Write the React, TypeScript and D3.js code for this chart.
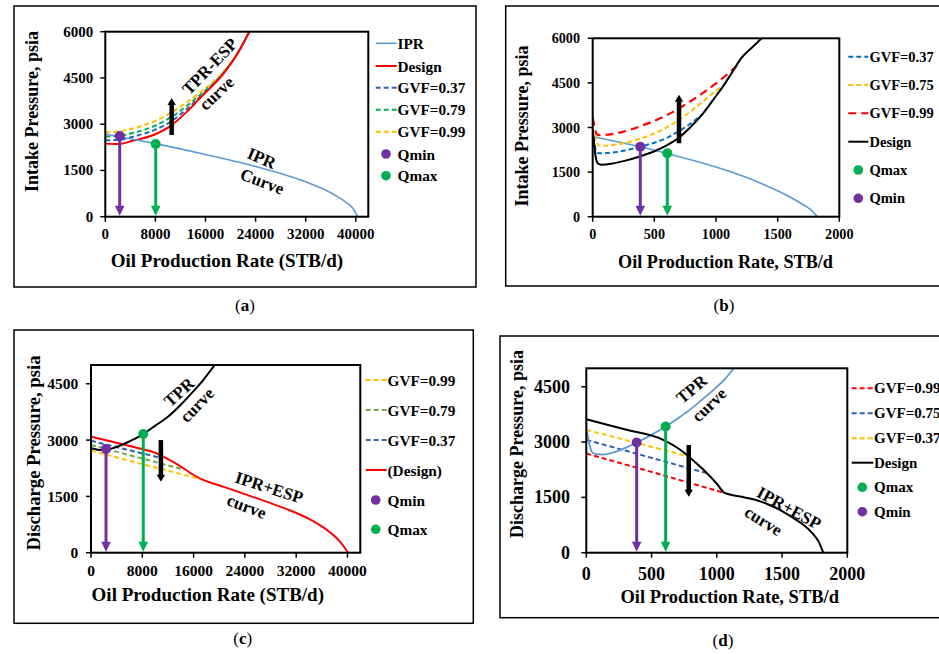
import React from "react";
import * as d3 from "d3";

type Pt = [number, number];

const FONT = '"Liberation Serif", "Times New Roman", serif';

// ---------- Colours ----------
const C_IPR = "#5B9BD5";
const C_RED = "#FF0000";
const C_NAVY = "#2E64AE";
const C_BLUE = "#0070C0";
const C_GREEN = "#00B050";
const C_LGREEN = "#70AD47";
const C_YELLOW = "#FFC000";
const C_PURPLE = "#7030A0";
const C_BLACK = "#000000";

// ---------- Panel (a) data ----------
const aXTicks = [0, 8000, 16000, 24000, 32000, 40000];
const aYTicks = [0, 1500, 3000, 4500, 6000];
const aIPR: Pt[] = [[0, 2680], [4000, 2530], [8000, 2370], [12000, 2200], [16000, 2020], [20000, 1830], [24000, 1630], [28000, 1400], [32000, 1130], [35000, 880], [37000, 660], [38500, 460], [39500, 280], [40300, 0]];
const aDesign: Pt[] = [[0, 2370], [2000, 2355], [4500, 2470], [7700, 2650], [10600, 2970], [13000, 3400], [15100, 3840], [19100, 4700], [21000, 5250], [23000, 6000]];
const aGVF037: Pt[] = [[0, 2480], [2000, 2490], [4500, 2600], [7700, 2800], [10600, 3100], [13000, 3490], [15100, 3880], [19100, 4710], [21000, 5255], [23000, 6000]];
const aGVF079: Pt[] = [[0, 2600], [2000, 2615], [4500, 2720], [7700, 2930], [10600, 3240], [13000, 3590], [15100, 3940], [19100, 4730], [21000, 5260], [23000, 6000]];
const aGVF099: Pt[] = [[0, 2740], [2000, 2760], [4500, 2870], [7700, 3080], [10600, 3390], [13000, 3710], [15100, 4020], [19100, 4760], [21000, 5270], [23000, 6000]];
const aQmin: Pt = [2300, 2615];
const aQmax: Pt = [8050, 2360];
const aShift: Pt[] = [[10600, 2650], [10600, 3850]];
const aLegendLabels = ["IPR", "Design", "GVF=0.37", "GVF=0.79", "GVF=0.99", "Qmin", "Qmax"];

// ---------- Panel (b) data ----------
const bXTicks = [0, 500, 1000, 1500, 2000];
const bYTicks = [0, 1500, 3000, 4500, 6000];
const bIPR: Pt[] = [[0, 2700], [200, 2520], [386, 2350], [605, 2125], [800, 1910], [1000, 1670], [1200, 1390], [1400, 1060], [1500, 870], [1600, 660], [1700, 420], [1770, 230], [1822, 0]];
const bDesign: Pt[] = [[0, 2900], [10, 2500], [25, 2000], [40, 1800], [70, 1750], [150, 1780], [250, 1870], [370, 2010], [500, 2200], [600, 2400], [700, 2660], [800, 3040], [900, 3500], [1000, 4060], [1060, 4400], [1130, 4850], [1205, 5330], [1290, 5680], [1370, 6000]];
const bGVF037: Pt[] = [[0, 2950], [12, 2550], [25, 2250], [50, 2130], [120, 2140], [250, 2220], [410, 2380], [600, 2650], [700, 2880], [800, 3150], [890, 3440]];
const bGVF075: Pt[] = [[0, 3000], [15, 2750], [30, 2500], [60, 2380], [120, 2390], [250, 2470], [410, 2660], [600, 3000], [700, 3260], [800, 3560], [900, 3900], [1000, 4230], [1055, 4400]];
const bGVF099: Pt[] = [[0, 3330], [15, 3050], [30, 2780], [60, 2740], [120, 2760], [250, 2860], [410, 3080], [600, 3410], [700, 3640], [800, 3900], [900, 4180], [1000, 4480], [1100, 4820], [1200, 5200]];
const bQmin: Pt = [386, 2355];
const bQmax: Pt = [605, 2130];
const bShift: Pt[] = [[700, 2470], [700, 4100]];
const bLegendLabels = ["GVF=0.37", "GVF=0.75", "GVF=0.99", "Design", "Qmax", "Qmin"];

// ---------- Panel (c) data ----------
const cXTicks = [0, 8000, 16000, 24000, 32000, 40000];
const cYTicks = [0, 1500, 3000, 4500];
const cDesign: Pt[] = [[0, 3090], [3500, 2950], [6850, 2810], [10200, 2650], [11500, 2540], [13000, 2400], [14600, 2230], [16000, 2070], [17500, 1940], [20600, 1760], [24000, 1560], [28000, 1320], [31000, 1130], [34000, 900], [36500, 640], [38800, 300], [40100, 0]];
const cTPR: Pt[] = [[0, 2780], [1000, 2745], [2200, 2735], [3500, 2790], [5300, 2910], [6800, 3030], [8150, 3160], [10000, 3380], [12000, 3620], [14000, 3940], [15700, 4250], [17500, 4600], [19300, 5000]];
const cGVF037: Pt[] = [[0, 2980], [5500, 2750], [11000, 2520]];
const cGVF079: Pt[] = [[0, 2870], [7300, 2540], [14600, 2210]];
const cGVF099: Pt[] = [[0, 2720], [8700, 2330], [17500, 1940]];
const cQmin: Pt = [2340, 2760];
const cQmax: Pt = [8150, 3160];
const cShift: Pt[] = [[10900, 3000], [10900, 1890]];
const cLegendLabels = ["GVF=0.99", "GVF=0.79", "GVF=0.37", "(Design)", "Qmin", "Qmax"];

// ---------- Panel (d) data ----------
const dXTicks = [0, 500, 1000, 1500, 2000];
const dYTicks = [0, 1500, 3000, 4500];
const dDesign: Pt[] = [[0, 3620], [300, 3340], [590, 3060], [720, 2790], [800, 2560], [900, 2240], [1000, 1870], [1060, 1620], [1200, 1510], [1300, 1430], [1400, 1300], [1500, 1130], [1600, 910], [1670, 740], [1730, 540], [1780, 300], [1816, 0]];
const dTPR: Pt[] = [[0, 3370], [15, 3100], [30, 2850], [45, 2720], [80, 2670], [130, 2660], [200, 2710], [335, 2900], [470, 3140], [608, 3420], [700, 3640], [795, 3880], [880, 4130], [973, 4410], [1060, 4700], [1132, 5000]];
const dGVF099: Pt[] = [[0, 2690], [530, 2160], [1060, 1620]];
const dGVF075: Pt[] = [[0, 3060], [460, 2610], [920, 2160]];
const dGVF037: Pt[] = [[0, 3330], [395, 2970], [790, 2600]];
const dQmin: Pt = [386, 2990];
const dQmax: Pt = [608, 3420];
const dShift: Pt[] = [[785, 2920], [785, 1520]];
const dLegendLabels = ["GVF=0.99", "GVF=0.75", "GVF=0.37", "Design", "Qmax", "Qmin"];

// ---------- Types ----------
type Series = { data: Pt[]; color: string; width: number; dash?: string; curve?: "smooth" | "linear" };
type Legend = { label: string; color: string; kind: "line" | "dot"; dash?: string; width?: number };
type Label = { text: string; at: Pt; angle: number };
type PanelCfg = {
  id: string;
  frame: { x: number; y: number; w: number; h: number };
  plot: { l: number; t: number; r: number; b: number };
  xDomain: [number, number];
  yDomain: [number, number];
  xTicks: number[];
  yTicks: number[];
  tickSize: number;
  xTickDy: number;
  yTickDx: number;
  series: Series[];
  qmin: Pt;
  qmax: Pt;
  shift: Pt[];
  labels: Label[];
  labelSize: number;
  legend: Legend[];
  legendX: { l0: number; l1: number; dot: number; text: number };
  legendRows: number[];
  legendSize: number;
  xTitle: string;
  xTitlePos: [number, number];
  xTitleSize: number;
  yTitle: string;
  yTitlePos: [number, number];
  yTitleSize: number;
  caption: string;
  captionPos: [number, number];
};

const DASH = "5,3";
const LDASH = "8,5";

const panels: PanelCfg[] = [
  {
    id: "a",
    frame: { x: 14, y: 6, w: 462, h: 281 },
    plot: { l: 105.3, t: 31.7, r: 368.3, b: 216.7 },
    xDomain: [0, 42000],
    yDomain: [0, 6000],
    xTicks: aXTicks,
    yTicks: aYTicks,
    tickSize: 15,
    xTickDy: 22,
    yTickDx: 12,
    series: [
      { data: aGVF099, color: C_YELLOW, width: 2, dash: DASH },
      { data: aGVF079, color: C_GREEN, width: 2, dash: DASH },
      { data: aGVF037, color: C_NAVY, width: 2, dash: DASH },
      { data: aDesign, color: C_RED, width: 2 },
      { data: aIPR, color: C_IPR, width: 1.6 },
    ],
    qmin: aQmin,
    qmax: aQmax,
    shift: aShift,
    labels: [
      { text: "TPR-ESP", at: [16700, 4870], angle: -46 },
      { text: "curve", at: [17800, 4000], angle: -43 },
      { text: "IPR", at: [24950, 1890], angle: 23 },
      { text: "Curve", at: [25050, 1135], angle: 21 },
    ],
    labelSize: 17,
    legend: [
      { label: aLegendLabels[0], color: C_IPR, kind: "line", width: 1.6 },
      { label: aLegendLabels[1], color: C_RED, kind: "line" },
      { label: aLegendLabels[2], color: C_NAVY, kind: "line", dash: DASH },
      { label: aLegendLabels[3], color: C_GREEN, kind: "line", dash: DASH },
      { label: aLegendLabels[4], color: C_YELLOW, kind: "line", dash: DASH },
      { label: aLegendLabels[5], color: C_PURPLE, kind: "dot" },
      { label: aLegendLabels[6], color: C_GREEN, kind: "dot" },
    ],
    legendX: { l0: 375.7, l1: 396.7, dot: 386, text: 397.5 },
    legendRows: [43.3, 66, 87.7, 109.7, 131.7, 154, 175.7],
    legendSize: 15.3,
    xTitle: "Oil Production Rate (STB/d)",
    xTitlePos: [227, 267],
    xTitleSize: 19,
    yTitle: "Intake Pressure, psia",
    yTitlePos: [31.7, 111.5],
    yTitleSize: 18,
    caption: "a",
    captionPos: [245, 311],
  },
  {
    id: "b",
    frame: { x: 505.7, y: 6, w: 450, h: 280 },
    plot: { l: 592.7, t: 38.3, r: 839.3, b: 216.7 },
    xDomain: [0, 2000],
    yDomain: [0, 6000],
    xTicks: bXTicks,
    yTicks: bYTicks,
    tickSize: 14.2,
    xTickDy: 22,
    yTickDx: 12.7,
    series: [
      { data: bIPR, color: C_IPR, width: 1.6 },
      { data: bGVF099, color: C_RED, width: 2.2, dash: LDASH },
      { data: bGVF075, color: C_YELLOW, width: 2, dash: DASH },
      { data: bGVF037, color: C_BLUE, width: 2, dash: DASH },
      { data: bDesign, color: C_BLACK, width: 2 },
    ],
    qmin: bQmin,
    qmax: bQmax,
    shift: bShift,
    labels: [],
    labelSize: 17,
    legend: [
      { label: bLegendLabels[0], color: C_BLUE, kind: "line", dash: DASH },
      { label: bLegendLabels[1], color: C_YELLOW, kind: "line", dash: DASH },
      { label: bLegendLabels[2], color: C_RED, kind: "line", dash: LDASH },
      { label: bLegendLabels[3], color: C_BLACK, kind: "line" },
      { label: bLegendLabels[4], color: C_GREEN, kind: "dot" },
      { label: bLegendLabels[5], color: C_PURPLE, kind: "dot" },
    ],
    legendX: { l0: 848.3, l1: 868.3, dot: 858.3, text: 869.5 },
    legendRows: [56.7, 85, 113.3, 141.7, 170, 198.3],
    legendSize: 14.5,
    xTitle: "Oil Production Rate, STB/d",
    xTitlePos: [725.5, 268],
    xTitleSize: 18.2,
    yTitle: "Intake Pressure, psia",
    yTitlePos: [521.7, 126],
    yTitleSize: 18,
    caption: "b",
    captionPos: [724, 311],
  },
  {
    id: "c",
    frame: { x: 14, y: 330, w: 459.3, h: 293.3 },
    plot: { l: 91, t: 365, r: 360.3, b: 552.7 },
    xDomain: [0, 42000],
    yDomain: [0, 5000],
    xTicks: cXTicks,
    yTicks: cYTicks,
    tickSize: 15.5,
    xTickDy: 23,
    yTickDx: 12.7,
    series: [
      { data: cGVF099, color: C_YELLOW, width: 2, dash: DASH, curve: "linear" },
      { data: cGVF079, color: C_LGREEN, width: 2, dash: DASH, curve: "linear" },
      { data: cGVF037, color: C_NAVY, width: 2, dash: DASH, curve: "linear" },
      { data: cDesign, color: C_RED, width: 2 },
      { data: cTPR, color: C_BLACK, width: 2 },
    ],
    qmin: cQmin,
    qmax: cQmax,
    shift: cShift,
    labels: [
      { text: "TPR", at: [13760, 4270], angle: -42 },
      { text: "curve", at: [16560, 3930], angle: -46 },
      { text: "IPR+ESP", at: [27780, 1730], angle: 18 },
      { text: "curve", at: [24260, 1225], angle: 21 },
    ],
    labelSize: 17,
    legend: [
      { label: cLegendLabels[0], color: C_YELLOW, kind: "line", dash: DASH },
      { label: cLegendLabels[1], color: C_LGREEN, kind: "line", dash: DASH },
      { label: cLegendLabels[2], color: C_NAVY, kind: "line", dash: DASH },
      { label: cLegendLabels[3], color: C_RED, kind: "line" },
      { label: cLegendLabels[4], color: C_PURPLE, kind: "dot" },
      { label: cLegendLabels[5], color: C_GREEN, kind: "dot" },
    ],
    legendX: { l0: 365.7, l1: 386.7, dot: 375.7, text: 387.5 },
    legendRows: [380, 410, 440, 470, 500, 529.3],
    legendSize: 15.3,
    xTitle: "Oil Production Rate (STB/d)",
    xTitlePos: [207.8, 601],
    xTitleSize: 19,
    yTitle: "Discharge Pressure, psia",
    yTitlePos: [33, 453],
    yTitleSize: 18.7,
    caption: "c",
    captionPos: [242.7, 644],
  },
  {
    id: "d",
    frame: { x: 500, y: 336, w: 450, h: 281.7 },
    plot: { l: 586.3, t: 368.3, r: 847.3, b: 552.7 },
    xDomain: [0, 2000],
    yDomain: [0, 5000],
    xTicks: dXTicks,
    yTicks: dYTicks,
    tickSize: 18,
    xTickDy: 27.3,
    yTickDx: 16.3,
    series: [
      { data: dGVF099, color: C_RED, width: 2, dash: DASH, curve: "linear" },
      { data: dGVF075, color: C_NAVY, width: 2, dash: DASH, curve: "linear" },
      { data: dGVF037, color: C_YELLOW, width: 2, dash: DASH, curve: "linear" },
      { data: dTPR, color: C_IPR, width: 1.8 },
      { data: dDesign, color: C_BLACK, width: 2 },
    ],
    qmin: dQmin,
    qmax: dQmax,
    shift: dShift,
    labels: [
      { text: "TPR", at: [808, 4430], angle: -40 },
      { text: "curve", at: [943, 4005], angle: -44 },
      { text: "IPR+ESP", at: [1553, 1204], angle: 29 },
      { text: "curve", at: [1356, 860], angle: 32 },
    ],
    labelSize: 17,
    legend: [
      { label: dLegendLabels[0], color: C_RED, kind: "line", dash: DASH },
      { label: dLegendLabels[1], color: C_NAVY, kind: "line", dash: DASH },
      { label: dLegendLabels[2], color: C_YELLOW, kind: "line", dash: DASH },
      { label: dLegendLabels[3], color: C_BLACK, kind: "line" },
      { label: dLegendLabels[4], color: C_GREEN, kind: "dot" },
      { label: dLegendLabels[5], color: C_PURPLE, kind: "dot" },
    ],
    legendX: { l0: 851.7, l1: 873.3, dot: 862.3, text: 874 },
    legendRows: [388.3, 413.3, 438.3, 462.7, 487.3, 511.7],
    legendSize: 15,
    xTitle: "Oil Production Rate, STB/d",
    xTitlePos: [729.7, 603.3],
    xTitleSize: 18.5,
    yTitle: "Discharge Pressure, psia",
    yTitlePos: [516.7, 444],
    yTitleSize: 18,
    caption: "d",
    captionPos: [723, 646],
  },
];

function Arrow({ x1, y1, x2, y2, color, width, headLen, headHalf }: { x1: number; y1: number; x2: number; y2: number; color: string; width: number; headLen: number; headHalf: number }) {
  const dx = x2 - x1;
  const dy = y2 - y1;
  const len = Math.hypot(dx, dy) || 1;
  const ux = dx / len;
  const uy = dy / len;
  const bx = x2 - ux * headLen;
  const by = y2 - uy * headLen;
  const px = -uy;
  const py = ux;
  const pts = [
    [x2, y2],
    [bx + px * headHalf, by + py * headHalf],
    [bx - px * headHalf, by - py * headHalf],
  ]
    .map((p) => p.join(","))
    .join(" ");
  return (
    <g>
      <line x1={x1} y1={y1} x2={bx + ux * 0.5} y2={by + uy * 0.5} stroke={color} strokeWidth={width} />
      <polygon points={pts} fill={color} />
    </g>
  );
}

function Panel({ cfg }: { cfg: PanelCfg }) {
  const { plot } = cfg;
  const x = d3.scaleLinear().domain(cfg.xDomain).range([plot.l, plot.r]);
  const y = d3.scaleLinear().domain(cfg.yDomain).range([plot.b, plot.t]);
  const mk = (s: Series) =>
    d3
      .line<Pt>()
      .x((d) => x(d[0]))
      .y((d) => y(d[1]))
      .curve(s.curve === "linear" ? d3.curveLinear : d3.curveMonotoneX)(s.data) || "";
  const clipId = `clip-${cfg.id}`;
  const y0 = y(0);
  return (
    <g>
      <rect x={cfg.frame.x} y={cfg.frame.y} width={cfg.frame.w} height={cfg.frame.h} fill="none" stroke="#000" strokeWidth={1.5} />
      <defs>
        <clipPath id={clipId}>
          <rect x={plot.l} y={plot.t} width={plot.r - plot.l} height={plot.b - plot.t} />
        </clipPath>
      </defs>
      <g clipPath={`url(#${clipId})`}>
        {cfg.series.map((s, i) => (
          <path key={i} d={mk(s)} fill="none" stroke={s.color} strokeWidth={s.width} strokeDasharray={s.dash} />
        ))}
      </g>
      {/* Qmin / Qmax drop arrows */}
      {[
        { p: cfg.qmin, c: C_PURPLE },
        { p: cfg.qmax, c: C_GREEN },
      ].map((m, i) => (
        <g key={i}>
          <Arrow x1={x(m.p[0])} y1={y(m.p[1])} x2={x(m.p[0])} y2={y0 - 1} color={m.c} width={3} headLen={10} headHalf={4.8} />
          <circle cx={x(m.p[0])} cy={y(m.p[1])} r={5} fill={m.c} />
        </g>
      ))}
      {/* shift arrow */}
      <Arrow x1={x(cfg.shift[0][0])} y1={y(cfg.shift[0][1])} x2={x(cfg.shift[1][0])} y2={y(cfg.shift[1][1])} color="#000" width={4.5} headLen={7} headHalf={4.2} />
      {/* annotation labels */}
      {cfg.labels.map((l, i) => (
        <text
          key={i}
          transform={`translate(${x(l.at[0])},${y(l.at[1])}) rotate(${l.angle})`}
          textAnchor="middle"
          dominantBaseline="central"
          fontFamily={FONT}
          fontWeight="bold"
          fontSize={cfg.labelSize}
          fill="#000"
        >
          {l.text}
        </text>
      ))}
      {/* plot frame */}
      <rect x={plot.l} y={plot.t} width={plot.r - plot.l} height={plot.b - plot.t} fill="none" stroke="#000" strokeWidth={2} />
      {/* ticks */}
      {cfg.xTicks.map((t) => (
        <g key={`x${t}`}>
          <line x1={x(t)} x2={x(t)} y1={plot.b} y2={plot.b + 5} stroke="#000" strokeWidth={1.5} />
          <text x={x(t)} y={plot.b + cfg.xTickDy} textAnchor="middle" fontFamily={FONT} fontWeight="bold" fontSize={cfg.tickSize}>
            {t}
          </text>
        </g>
      ))}
      {cfg.yTicks.map((t) => (
        <g key={`y${t}`}>
          <line x1={plot.l - 5} x2={plot.l} y1={y(t)} y2={y(t)} stroke="#000" strokeWidth={1.5} />
          <text x={plot.l - cfg.yTickDx} y={y(t)} textAnchor="end" dominantBaseline="central" fontFamily={FONT} fontWeight="bold" fontSize={cfg.tickSize}>
            {t}
          </text>
        </g>
      ))}
      {/* axis titles */}
      <text x={cfg.xTitlePos[0]} y={cfg.xTitlePos[1]} textAnchor="middle" fontFamily={FONT} fontWeight="bold" fontSize={cfg.xTitleSize}>
        {cfg.xTitle}
      </text>
      <text
        transform={`translate(${cfg.yTitlePos[0]},${cfg.yTitlePos[1]}) rotate(-90)`}
        textAnchor="middle"
        dominantBaseline="central"
        fontFamily={FONT}
        fontWeight="bold"
        fontSize={cfg.yTitleSize}
      >
        {cfg.yTitle}
      </text>
      {/* legend */}
      {cfg.legend.map((lg, i) => {
        const ry = cfg.legendRows[i];
        return (
          <g key={`lg${i}`}>
            {lg.kind === "line" ? (
              <line x1={cfg.legendX.l0} x2={cfg.legendX.l1} y1={ry} y2={ry} stroke={lg.color} strokeWidth={lg.width ?? 2} strokeDasharray={lg.dash} />
            ) : (
              <circle cx={cfg.legendX.dot} cy={ry} r={4.8} fill={lg.color} />
            )}
            <text x={cfg.legendX.text} y={ry} dominantBaseline="central" fontFamily={FONT} fontWeight="bold" fontSize={cfg.legendSize}>
              {lg.label}
            </text>
          </g>
        );
      })}
      {/* caption */}
      <text x={cfg.captionPos[0]} y={cfg.captionPos[1]} textAnchor="middle" fontFamily={FONT} fontSize={17}>
        (<tspan fontWeight="bold">{cfg.caption}</tspan>)
      </text>
    </g>
  );
}

export default function App() {
  return (
    <svg
      width={939}
      height={654}
      viewBox="0 0 939 654"
      style={{ position: "absolute", left: 0, top: 0, background: "#fff" }}
    >
      <rect x={0} y={0} width={939} height={654} fill="#fff" />
      {panels.map((p) => (
        <Panel key={p.id} cfg={p} />
      ))}
    </svg>
  );
}
